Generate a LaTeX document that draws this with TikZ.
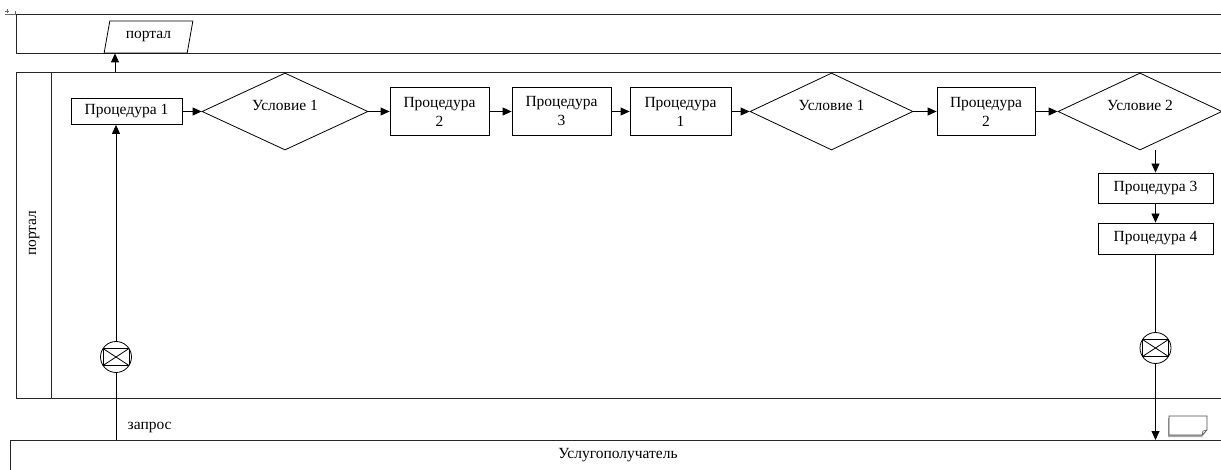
\documentclass[tikz,border=0pt]{standalone}
\usepackage{fontspec}
\setmainfont{Liberation Serif}
\usetikzlibrary{arrows.meta,shapes.geometric}
\begin{document}
\begin{tikzpicture}[x=1pt,y=-1pt,
  line width=0.8pt,
  every node/.style={font=\fontsize{15.5}{19}\selectfont},
  lane/.style={draw=black!85, line width=0.9pt},
  proc/.style={draw, rectangle, inner sep=0pt, align=center},
  cond/.style={draw, diamond, inner sep=0pt, minimum height=77pt},
  gate/.style={draw, circle, inner sep=0pt, minimum size=31pt,
    path picture={
      \draw ([shift={(-13pt,-8.5pt)}]path picture bounding box.center)
            rectangle ([shift={(13pt,8.5pt)}]path picture bounding box.center);
      \draw ([shift={(-13pt,-8.5pt)}]path picture bounding box.center)
         -- ([shift={(13pt,8.5pt)}]path picture bounding box.center);
      \draw ([shift={(-13pt,8.5pt)}]path picture bounding box.center)
         -- ([shift={(13pt,-8.5pt)}]path picture bounding box.center);
    }},
  flow/.style={-{Triangle[length=9pt,width=8pt]}}
]
\useasboundingbox (0,0) rectangle (1221,470);

% corner marker
\draw[black!60, line width=0.5pt] (5,11) -- (9,11) (7,9) -- (7,13);
\draw[black!60, line width=0.5pt] (5,14) -- (15,14) -- (15,11);

% swimlanes
\draw[lane] (1235,14) -- (16,14) -- (16,53) -- (1235,53);
\draw[lane] (1235,72) -- (16,72) -- (16,398) -- (1235,398);
\draw[lane] (51,72) -- (51,398);
\draw[lane] (1235,440) -- (10,440) -- (10,480);
\node[rotate=90] (lanename) at (34,233) {портал};
\node (client) at (618,455) {Услугополучатель};

% top lane: portal
\node[draw, trapezium, trapezium left angle=72.6, trapezium right angle=107.4,
      trapezium stretches=true, minimum width=89pt, minimum height=32pt,
      inner sep=0pt] (portal) at (148.5,37) {портал};

% main flow
\node[proc, minimum width=111pt, minimum height=26pt] (p1) at (126.5,111.5) {Процедура 1};
\node[cond, minimum width=166pt] (c1) at (285,111.5) {};
\node (c1t) at ([yshift=6pt]c1.center) {Условие 1};
\node[proc, minimum width=99pt, minimum height=48pt] (p2) at (439.5,111.5) {Процедура\\2};
\node[proc, minimum width=99pt, minimum height=48pt] (p3) at (561.5,111.5) {Процедура\\3};
\node[proc, minimum width=101pt, minimum height=48pt] (p1b) at (680.5,111.5) {Процедура\\1};
\node[cond, minimum width=163pt] (c2) at (831.5,111.5) {};
\node (c2t) at ([yshift=6pt]c2.center) {Условие 1};
\node[proc, minimum width=98pt, minimum height=48pt] (p2b) at (986,111.5) {Процедура\\2};
\node[cond, minimum width=164pt] (c3) at (1140,111.5) {};
\node (c3t) at ([yshift=6pt]c3.center) {Условие 2};
\node[proc, minimum width=115pt, minimum height=30pt] (p3b) at (1155.5,188) {Процедура 3};
\node[proc, minimum width=115pt, minimum height=31pt] (p4b) at (1155.5,238.5) {Процедура 4};

\draw[flow] (p1) -- (c1);
\draw[flow] (c1) -- (p2);
\draw[flow] (p2) -- (p3);
\draw[flow] (p3) -- (p1b);
\draw[flow] (p1b) -- (c2);
\draw[flow] (c2) -- (p2b);
\draw[flow] (p2b) -- (c3);
\draw[flow] (p3b.north |- c3.south) -- (p3b.north);
\draw[flow] (p3b) -- (p4b);

% link to the portal lane
\coordinate (up) at (115,72);
\draw[flow] (up) -- (up |- portal.south);

% incoming request
\node[gate] (g1) at (116,357) {};
\coordinate (req) at (116,440);
\draw (req) -- (g1.south);
\draw[flow] (g1.north) -- (g1.north |- p1.south);
\node[anchor=west] (reqlbl) at (124,427) {запрос};

% outgoing response
\node[gate] (g2) at (1155.5,348) {};
\coordinate (resp) at (1155.5,440);
\draw (p4b.south) -- (g2.north);
\draw[flow] (g2.south) -- (resp);

% document icon
\fill[black!35] (1168,418) -- (1206,418) -- (1206,432) -- (1202,437) -- (1168,437) -- cycle;
\draw[black!70, line width=0.6pt, fill=white]
  (1169,416) -- (1207,416) -- (1207,430) -- (1202,435) -- (1169,435) -- cycle;
\draw[black!70, line width=0.6pt] (1207,430) -- (1203,431) -- (1202,435);
\end{tikzpicture}
\end{document}
